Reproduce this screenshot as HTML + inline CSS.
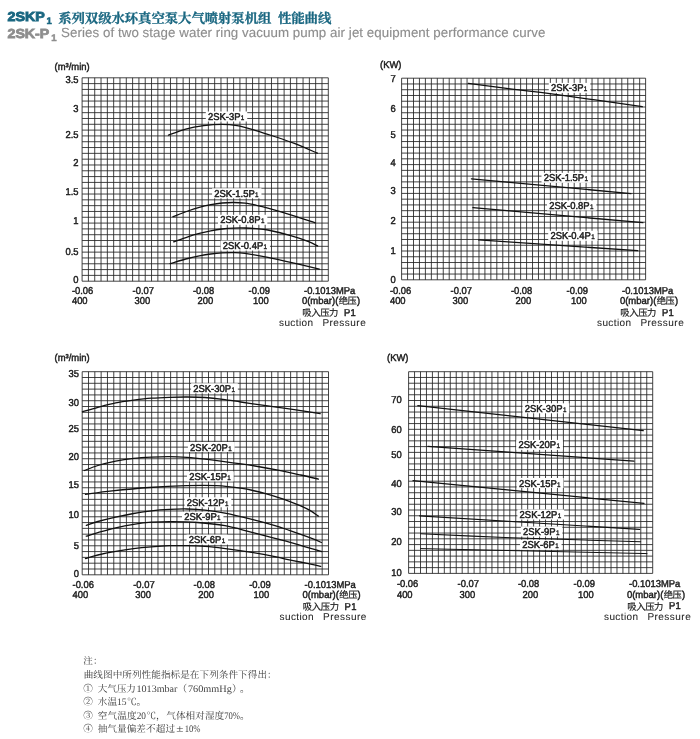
<!DOCTYPE html>
<html><head><meta charset="utf-8"><title>2SKP1 performance curve</title>
<style>html,body{margin:0;padding:0;background:#fff}body{width:700px;height:739px;overflow:hidden;font-family:"Liberation Sans",sans-serif}</style>
</head><body>
<svg width="700" height="739" viewBox="0 0 700 739" font-family="'Liberation Sans', sans-serif" text-rendering="geometricPrecision" style="display:block">
<title>2SKP1 performance curve</title>
<desc>2SKP1 系列双级水环真空泵大气喷射泵机组 性能曲线. 2SK-P1 Series of two stage water ring vacuum pump air jet equipment performance curve. 吸入压力 P1 suction Pressure (绝压). 注：曲线图中所列性能指标是在下列条件下得出：① 大气压力1013mbar（760mmHg）。② 水温15℃。③ 空气温度20℃，气体相对湿度70%。④ 抽气量偏差不超过±10%</desc>
<rect width="700" height="739" fill="#fff"/>
<g style="will-change:opacity" opacity="0.9999">
<text x="7.5" y="21.4" font-size="13.1" font-weight="bold" fill="#1a6781" stroke="#1a6781" stroke-width="0.9" textLength="37.2" lengthAdjust="spacingAndGlyphs">2SKP</text>
<text x="46.6" y="24.4" font-size="9.6" font-weight="bold" fill="#1a6781" stroke="#1a6781" stroke-width="0.5">1</text>
<text x="58.2" y="22.8" font-family="'Liberation Serif', 'Noto Serif CJK SC', serif" font-size="13.4" font-weight="bold" fill="#1a6781" stroke="#1a6781" stroke-width="0.3" textLength="213.2" lengthAdjust="spacing">系列双级水环真空泵大气喷射泵机组</text>
<text x="278" y="22.8" font-family="'Liberation Serif', 'Noto Serif CJK SC', serif" font-size="13.4" font-weight="bold" fill="#1a6781" stroke="#1a6781" stroke-width="0.3" textLength="53.3" lengthAdjust="spacing">性能曲线</text>
<text x="7.5" y="37.8" font-size="13.1" font-weight="bold" fill="#8e8e8e" stroke="#8e8e8e" stroke-width="0.8" textLength="41.8" lengthAdjust="spacingAndGlyphs">2SK-P</text>
<text x="51.3" y="40.9" font-size="9.6" font-weight="bold" fill="#8e8e8e" stroke="#8e8e8e" stroke-width="0.5">1</text>
<text x="61.1" y="37.4" font-size="13.3" fill="#8e8e8e" stroke="#8e8e8e" stroke-width="0.15" textLength="484.2" lengthAdjust="spacing">Series of two stage water ring vacuum pump air jet equipment performance curve</text>
<path d="M82.1 77.8V281.2M88.41 77.8V281.2M94.73 77.8V281.2M101.04 77.8V281.2M107.35 77.8V281.2M113.66 77.8V281.2M119.98 77.8V281.2M126.29 77.8V281.2M132.6 77.8V281.2M138.92 77.8V281.2M145.23 77.8V281.2M151.54 77.8V281.2M157.85 77.8V281.2M164.17 77.8V281.2M170.48 77.8V281.2M176.79 77.8V281.2M183.11 77.8V281.2M189.42 77.8V281.2M195.73 77.8V281.2M202.04 77.8V281.2M208.36 77.8V281.2M214.67 77.8V281.2M220.98 77.8V281.2M227.29 77.8V281.2M233.61 77.8V281.2M239.92 77.8V281.2M246.23 77.8V281.2M252.55 77.8V281.2M258.86 77.8V281.2M265.17 77.8V281.2M271.48 77.8V281.2M277.8 77.8V281.2M284.11 77.8V281.2M290.42 77.8V281.2M296.74 77.8V281.2M303.05 77.8V281.2M309.36 77.8V281.2M315.67 77.8V281.2M321.99 77.8V281.2M328.3 77.8V281.2M82.1 77.8H328.3M82.1 83.61H328.3M82.1 89.42H328.3M82.1 95.23H328.3M82.1 101.05H328.3M82.1 106.86H328.3M82.1 112.67H328.3M82.1 118.48H328.3M82.1 124.29H328.3M82.1 130.1H328.3M82.1 135.91H328.3M82.1 141.73H328.3M82.1 147.54H328.3M82.1 153.35H328.3M82.1 159.16H328.3M82.1 164.97H328.3M82.1 170.78H328.3M82.1 176.59H328.3M82.1 182.41H328.3M82.1 188.22H328.3M82.1 194.03H328.3M82.1 199.84H328.3M82.1 205.65H328.3M82.1 211.46H328.3M82.1 217.27H328.3M82.1 223.09H328.3M82.1 228.9H328.3M82.1 234.71H328.3M82.1 240.52H328.3M82.1 246.33H328.3M82.1 252.14H328.3M82.1 257.95H328.3M82.1 263.77H328.3M82.1 269.58H328.3M82.1 275.39H328.3M82.1 281.2H328.3" stroke="#222" stroke-width="0.85" fill="none"/>
<text transform="translate(54.6 70.1) scale(0.94 1)" font-size="10" text-anchor="start" fill="#1c1c1c" font-weight="normal" stroke="#1c1c1c" stroke-width="0.45" >(m³/min)</text>
<text transform="translate(78.5 83.3) scale(0.94 1)" font-size="10" text-anchor="end" fill="#1c1c1c" font-weight="normal" stroke="#1c1c1c" stroke-width="0.45" >3.5</text>
<text transform="translate(78.5 112) scale(0.94 1)" font-size="10" text-anchor="end" fill="#1c1c1c" font-weight="normal" stroke="#1c1c1c" stroke-width="0.45" >3</text>
<text transform="translate(78.5 138.4) scale(0.94 1)" font-size="10" text-anchor="end" fill="#1c1c1c" font-weight="normal" stroke="#1c1c1c" stroke-width="0.45" >2.5</text>
<text transform="translate(78.5 166.2) scale(0.94 1)" font-size="10" text-anchor="end" fill="#1c1c1c" font-weight="normal" stroke="#1c1c1c" stroke-width="0.45" >2</text>
<text transform="translate(78.5 194.5) scale(0.94 1)" font-size="10" text-anchor="end" fill="#1c1c1c" font-weight="normal" stroke="#1c1c1c" stroke-width="0.45" >1.5</text>
<text transform="translate(78.5 224.3) scale(0.94 1)" font-size="10" text-anchor="end" fill="#1c1c1c" font-weight="normal" stroke="#1c1c1c" stroke-width="0.45" >1</text>
<text transform="translate(78.5 255.2) scale(0.94 1)" font-size="10" text-anchor="end" fill="#1c1c1c" font-weight="normal" stroke="#1c1c1c" stroke-width="0.45" >0.5</text>
<text transform="translate(78.5 283.1) scale(0.94 1)" font-size="10" text-anchor="end" fill="#1c1c1c" font-weight="normal" stroke="#1c1c1c" stroke-width="0.45" >0</text>
<text transform="translate(71.9 293.6) scale(0.94 1)" font-size="10" text-anchor="start" fill="#1c1c1c" font-weight="normal" stroke="#1c1c1c" stroke-width="0.45" >-0.06</text>
<text transform="translate(132.6 293.6) scale(0.94 1)" font-size="10" text-anchor="start" fill="#1c1c1c" font-weight="normal" stroke="#1c1c1c" stroke-width="0.45" >-0.07</text>
<text transform="translate(192.9 293.6) scale(0.94 1)" font-size="10" text-anchor="start" fill="#1c1c1c" font-weight="normal" stroke="#1c1c1c" stroke-width="0.45" >-0.08</text>
<text transform="translate(248.6 293.6) scale(0.94 1)" font-size="10" text-anchor="start" fill="#1c1c1c" font-weight="normal" stroke="#1c1c1c" stroke-width="0.45" >-0.09</text>
<text transform="translate(304 293.6) scale(0.94 1)" font-size="10" text-anchor="start" fill="#1c1c1c" font-weight="normal" stroke="#1c1c1c" stroke-width="0.45" >-0.1013MPa</text>
<text transform="translate(71.9 304.2) scale(0.94 1)" font-size="10" text-anchor="start" fill="#1c1c1c" font-weight="normal" stroke="#1c1c1c" stroke-width="0.45" >400</text>
<text transform="translate(134.6 304.2) scale(0.94 1)" font-size="10" text-anchor="start" fill="#1c1c1c" font-weight="normal" stroke="#1c1c1c" stroke-width="0.45" >300</text>
<text transform="translate(197.6 304.2) scale(0.94 1)" font-size="10" text-anchor="start" fill="#1c1c1c" font-weight="normal" stroke="#1c1c1c" stroke-width="0.45" >200</text>
<text transform="translate(253 304.2) scale(0.94 1)" font-size="10" text-anchor="start" fill="#1c1c1c" font-weight="normal" stroke="#1c1c1c" stroke-width="0.45" >100</text>
<text transform="translate(301.9 304.2) scale(0.94 1)" font-size="10" text-anchor="start" fill="#1c1c1c" font-weight="normal" stroke="#1c1c1c" stroke-width="0.45" textLength="38.72" lengthAdjust="spacingAndGlyphs">0(mbar)(</text>
<text x="338.7" y="304.4" font-family="'Liberation Sans', 'Noto Sans CJK SC', sans-serif" font-size="9.3" fill="#1c1c1c" stroke="#1c1c1c" stroke-width="0.2" textLength="18.2" lengthAdjust="spacing">绝压</text>
<text transform="translate(357 304.2) scale(0.94 1)" font-size="10" text-anchor="start" fill="#1c1c1c" font-weight="normal" stroke="#1c1c1c" stroke-width="0.45" >)</text>
<text x="302.2" y="316" font-family="'Liberation Sans', 'Noto Sans CJK SC', sans-serif" font-size="9.3" fill="#1c1c1c" stroke="#1c1c1c" stroke-width="0.2" textLength="36.2" lengthAdjust="spacing">吸入压力</text>
<text transform="translate(343.9 315.6) scale(0.94 1)" font-size="10" text-anchor="start" fill="#1c1c1c" font-weight="normal" stroke="#1c1c1c" stroke-width="0.45" letter-spacing="0.4">P1</text>
<text transform="translate(279 326.3) scale(1 1)" font-size="10" text-anchor="start" fill="#1c1c1c" font-weight="normal" stroke="#1c1c1c" stroke-width="0.05" textLength="34.0" lengthAdjust="spacing">suction</text>
<text transform="translate(322.4 326.3) scale(1 1)" font-size="10" text-anchor="start" fill="#1c1c1c" font-weight="normal" stroke="#1c1c1c" stroke-width="0.05" textLength="43.3" lengthAdjust="spacing">Pressure</text>
<path d="M401.6 78.2V279.8M407.55 78.2V279.8M413.5 78.2V279.8M419.45 78.2V279.8M425.4 78.2V279.8M431.36 78.2V279.8M437.31 78.2V279.8M443.26 78.2V279.8M449.21 78.2V279.8M455.16 78.2V279.8M461.11 78.2V279.8M467.06 78.2V279.8M473.01 78.2V279.8M478.97 78.2V279.8M484.92 78.2V279.8M490.87 78.2V279.8M496.82 78.2V279.8M502.77 78.2V279.8M508.72 78.2V279.8M514.67 78.2V279.8M520.62 78.2V279.8M526.58 78.2V279.8M532.53 78.2V279.8M538.48 78.2V279.8M544.43 78.2V279.8M550.38 78.2V279.8M556.33 78.2V279.8M562.28 78.2V279.8M568.23 78.2V279.8M574.19 78.2V279.8M580.14 78.2V279.8M586.09 78.2V279.8M592.04 78.2V279.8M597.99 78.2V279.8M603.94 78.2V279.8M609.89 78.2V279.8M615.84 78.2V279.8M621.8 78.2V279.8M627.75 78.2V279.8M633.7 78.2V279.8M639.65 78.2V279.8M645.6 78.2V279.8M401.6 78.2H645.6M401.6 83.96H645.6M401.6 89.72H645.6M401.6 95.48H645.6M401.6 101.24H645.6M401.6 107H645.6M401.6 112.76H645.6M401.6 118.52H645.6M401.6 124.28H645.6M401.6 130.04H645.6M401.6 135.8H645.6M401.6 141.56H645.6M401.6 147.32H645.6M401.6 153.08H645.6M401.6 158.84H645.6M401.6 164.6H645.6M401.6 170.36H645.6M401.6 176.12H645.6M401.6 181.88H645.6M401.6 187.64H645.6M401.6 193.4H645.6M401.6 199.16H645.6M401.6 204.92H645.6M401.6 210.68H645.6M401.6 216.44H645.6M401.6 222.2H645.6M401.6 227.96H645.6M401.6 233.72H645.6M401.6 239.48H645.6M401.6 245.24H645.6M401.6 251H645.6M401.6 256.76H645.6M401.6 262.52H645.6M401.6 268.28H645.6M401.6 274.04H645.6M401.6 279.8H645.6" stroke="#222" stroke-width="0.85" fill="none"/>
<text transform="translate(380 68.2) scale(0.94 1)" font-size="10" text-anchor="start" fill="#1c1c1c" font-weight="normal" stroke="#1c1c1c" stroke-width="0.45" >(KW)</text>
<text transform="translate(395.7 81.8) scale(0.94 1)" font-size="10" text-anchor="end" fill="#1c1c1c" font-weight="normal" stroke="#1c1c1c" stroke-width="0.45" >7</text>
<text transform="translate(395.7 112.2) scale(0.94 1)" font-size="10" text-anchor="end" fill="#1c1c1c" font-weight="normal" stroke="#1c1c1c" stroke-width="0.45" >6</text>
<text transform="translate(395.7 137.8) scale(0.94 1)" font-size="10" text-anchor="end" fill="#1c1c1c" font-weight="normal" stroke="#1c1c1c" stroke-width="0.45" >5</text>
<text transform="translate(395.7 166.1) scale(0.94 1)" font-size="10" text-anchor="end" fill="#1c1c1c" font-weight="normal" stroke="#1c1c1c" stroke-width="0.45" >4</text>
<text transform="translate(395.7 194.3) scale(0.94 1)" font-size="10" text-anchor="end" fill="#1c1c1c" font-weight="normal" stroke="#1c1c1c" stroke-width="0.45" >3</text>
<text transform="translate(395.7 223.8) scale(0.94 1)" font-size="10" text-anchor="end" fill="#1c1c1c" font-weight="normal" stroke="#1c1c1c" stroke-width="0.45" >2</text>
<text transform="translate(395.7 254.4) scale(0.94 1)" font-size="10" text-anchor="end" fill="#1c1c1c" font-weight="normal" stroke="#1c1c1c" stroke-width="0.45" >1</text>
<text transform="translate(395.7 283.1) scale(0.94 1)" font-size="10" text-anchor="end" fill="#1c1c1c" font-weight="normal" stroke="#1c1c1c" stroke-width="0.45" >0</text>
<text transform="translate(389.9 293.6) scale(0.94 1)" font-size="10" text-anchor="start" fill="#1c1c1c" font-weight="normal" stroke="#1c1c1c" stroke-width="0.45" >-0.06</text>
<text transform="translate(450.6 293.6) scale(0.94 1)" font-size="10" text-anchor="start" fill="#1c1c1c" font-weight="normal" stroke="#1c1c1c" stroke-width="0.45" >-0.07</text>
<text transform="translate(510.9 293.6) scale(0.94 1)" font-size="10" text-anchor="start" fill="#1c1c1c" font-weight="normal" stroke="#1c1c1c" stroke-width="0.45" >-0.08</text>
<text transform="translate(566.6 293.6) scale(0.94 1)" font-size="10" text-anchor="start" fill="#1c1c1c" font-weight="normal" stroke="#1c1c1c" stroke-width="0.45" >-0.09</text>
<text transform="translate(622 293.6) scale(0.94 1)" font-size="10" text-anchor="start" fill="#1c1c1c" font-weight="normal" stroke="#1c1c1c" stroke-width="0.45" >-0.1013MPa</text>
<text transform="translate(389.9 304.2) scale(0.94 1)" font-size="10" text-anchor="start" fill="#1c1c1c" font-weight="normal" stroke="#1c1c1c" stroke-width="0.45" >400</text>
<text transform="translate(452.6 304.2) scale(0.94 1)" font-size="10" text-anchor="start" fill="#1c1c1c" font-weight="normal" stroke="#1c1c1c" stroke-width="0.45" >300</text>
<text transform="translate(515.6 304.2) scale(0.94 1)" font-size="10" text-anchor="start" fill="#1c1c1c" font-weight="normal" stroke="#1c1c1c" stroke-width="0.45" >200</text>
<text transform="translate(571 304.2) scale(0.94 1)" font-size="10" text-anchor="start" fill="#1c1c1c" font-weight="normal" stroke="#1c1c1c" stroke-width="0.45" >100</text>
<text transform="translate(619.9 304.2) scale(0.94 1)" font-size="10" text-anchor="start" fill="#1c1c1c" font-weight="normal" stroke="#1c1c1c" stroke-width="0.45" textLength="38.72" lengthAdjust="spacingAndGlyphs">0(mbar)(</text>
<text x="656.7" y="304.4" font-family="'Liberation Sans', 'Noto Sans CJK SC', sans-serif" font-size="9.3" fill="#1c1c1c" stroke="#1c1c1c" stroke-width="0.2" textLength="18.2" lengthAdjust="spacing">绝压</text>
<text transform="translate(675 304.2) scale(0.94 1)" font-size="10" text-anchor="start" fill="#1c1c1c" font-weight="normal" stroke="#1c1c1c" stroke-width="0.45" >)</text>
<text x="620.2" y="316" font-family="'Liberation Sans', 'Noto Sans CJK SC', sans-serif" font-size="9.3" fill="#1c1c1c" stroke="#1c1c1c" stroke-width="0.2" textLength="36.2" lengthAdjust="spacing">吸入压力</text>
<text transform="translate(661.9 315.6) scale(0.94 1)" font-size="10" text-anchor="start" fill="#1c1c1c" font-weight="normal" stroke="#1c1c1c" stroke-width="0.45" letter-spacing="0.4">P1</text>
<text transform="translate(597 326.3) scale(1 1)" font-size="10" text-anchor="start" fill="#1c1c1c" font-weight="normal" stroke="#1c1c1c" stroke-width="0.05" textLength="34.0" lengthAdjust="spacing">suction</text>
<text transform="translate(640.4 326.3) scale(1 1)" font-size="10" text-anchor="start" fill="#1c1c1c" font-weight="normal" stroke="#1c1c1c" stroke-width="0.05" textLength="43.3" lengthAdjust="spacing">Pressure</text>
<path d="M82.2 371.7V574.8M88.52 371.7V574.8M94.83 371.7V574.8M101.15 371.7V574.8M107.46 371.7V574.8M113.78 371.7V574.8M120.09 371.7V574.8M126.41 371.7V574.8M132.72 371.7V574.8M139.04 371.7V574.8M145.35 371.7V574.8M151.67 371.7V574.8M157.98 371.7V574.8M164.3 371.7V574.8M170.62 371.7V574.8M176.93 371.7V574.8M183.25 371.7V574.8M189.56 371.7V574.8M195.88 371.7V574.8M202.19 371.7V574.8M208.51 371.7V574.8M214.82 371.7V574.8M221.14 371.7V574.8M227.45 371.7V574.8M233.77 371.7V574.8M240.08 371.7V574.8M246.4 371.7V574.8M252.72 371.7V574.8M259.03 371.7V574.8M265.35 371.7V574.8M271.66 371.7V574.8M277.98 371.7V574.8M284.29 371.7V574.8M290.61 371.7V574.8M296.92 371.7V574.8M303.24 371.7V574.8M309.55 371.7V574.8M315.87 371.7V574.8M322.18 371.7V574.8M328.5 371.7V574.8M82.2 371.7H328.5M82.2 377.5H328.5M82.2 383.31H328.5M82.2 389.11H328.5M82.2 394.91H328.5M82.2 400.71H328.5M82.2 406.52H328.5M82.2 412.32H328.5M82.2 418.12H328.5M82.2 423.93H328.5M82.2 429.73H328.5M82.2 435.53H328.5M82.2 441.33H328.5M82.2 447.14H328.5M82.2 452.94H328.5M82.2 458.74H328.5M82.2 464.55H328.5M82.2 470.35H328.5M82.2 476.15H328.5M82.2 481.95H328.5M82.2 487.76H328.5M82.2 493.56H328.5M82.2 499.36H328.5M82.2 505.17H328.5M82.2 510.97H328.5M82.2 516.77H328.5M82.2 522.57H328.5M82.2 528.38H328.5M82.2 534.18H328.5M82.2 539.98H328.5M82.2 545.79H328.5M82.2 551.59H328.5M82.2 557.39H328.5M82.2 563.19H328.5M82.2 569H328.5M82.2 574.8H328.5" stroke="#222" stroke-width="0.85" fill="none"/>
<text transform="translate(54.6 361.3) scale(0.94 1)" font-size="10" text-anchor="start" fill="#1c1c1c" font-weight="normal" stroke="#1c1c1c" stroke-width="0.45" >(m³/min)</text>
<text transform="translate(79 377.4) scale(0.94 1)" font-size="10" text-anchor="end" fill="#1c1c1c" font-weight="normal" stroke="#1c1c1c" stroke-width="0.45" >35</text>
<text transform="translate(79 406.1) scale(0.94 1)" font-size="10" text-anchor="end" fill="#1c1c1c" font-weight="normal" stroke="#1c1c1c" stroke-width="0.45" >30</text>
<text transform="translate(79 432.1) scale(0.94 1)" font-size="10" text-anchor="end" fill="#1c1c1c" font-weight="normal" stroke="#1c1c1c" stroke-width="0.45" >25</text>
<text transform="translate(79 460.4) scale(0.94 1)" font-size="10" text-anchor="end" fill="#1c1c1c" font-weight="normal" stroke="#1c1c1c" stroke-width="0.45" >20</text>
<text transform="translate(79 488.3) scale(0.94 1)" font-size="10" text-anchor="end" fill="#1c1c1c" font-weight="normal" stroke="#1c1c1c" stroke-width="0.45" >15</text>
<text transform="translate(79 518.4) scale(0.94 1)" font-size="10" text-anchor="end" fill="#1c1c1c" font-weight="normal" stroke="#1c1c1c" stroke-width="0.45" >10</text>
<text transform="translate(79 549.2) scale(0.94 1)" font-size="10" text-anchor="end" fill="#1c1c1c" font-weight="normal" stroke="#1c1c1c" stroke-width="0.45" >5</text>
<text transform="translate(79 577) scale(0.94 1)" font-size="10" text-anchor="end" fill="#1c1c1c" font-weight="normal" stroke="#1c1c1c" stroke-width="0.45" >0</text>
<text transform="translate(72.5 587.6) scale(0.94 1)" font-size="10" text-anchor="start" fill="#1c1c1c" font-weight="normal" stroke="#1c1c1c" stroke-width="0.45" >-0.06</text>
<text transform="translate(133.2 587.6) scale(0.94 1)" font-size="10" text-anchor="start" fill="#1c1c1c" font-weight="normal" stroke="#1c1c1c" stroke-width="0.45" >-0.07</text>
<text transform="translate(193.5 587.6) scale(0.94 1)" font-size="10" text-anchor="start" fill="#1c1c1c" font-weight="normal" stroke="#1c1c1c" stroke-width="0.45" >-0.08</text>
<text transform="translate(249.2 587.6) scale(0.94 1)" font-size="10" text-anchor="start" fill="#1c1c1c" font-weight="normal" stroke="#1c1c1c" stroke-width="0.45" >-0.09</text>
<text transform="translate(304.6 587.6) scale(0.94 1)" font-size="10" text-anchor="start" fill="#1c1c1c" font-weight="normal" stroke="#1c1c1c" stroke-width="0.45" >-0.1013MPa</text>
<text transform="translate(72.5 598.2) scale(0.94 1)" font-size="10" text-anchor="start" fill="#1c1c1c" font-weight="normal" stroke="#1c1c1c" stroke-width="0.45" >400</text>
<text transform="translate(135.2 598.2) scale(0.94 1)" font-size="10" text-anchor="start" fill="#1c1c1c" font-weight="normal" stroke="#1c1c1c" stroke-width="0.45" >300</text>
<text transform="translate(198.2 598.2) scale(0.94 1)" font-size="10" text-anchor="start" fill="#1c1c1c" font-weight="normal" stroke="#1c1c1c" stroke-width="0.45" >200</text>
<text transform="translate(253.6 598.2) scale(0.94 1)" font-size="10" text-anchor="start" fill="#1c1c1c" font-weight="normal" stroke="#1c1c1c" stroke-width="0.45" >100</text>
<text transform="translate(302.5 598.2) scale(0.94 1)" font-size="10" text-anchor="start" fill="#1c1c1c" font-weight="normal" stroke="#1c1c1c" stroke-width="0.45" textLength="38.72" lengthAdjust="spacingAndGlyphs">0(mbar)(</text>
<text x="339.3" y="598.4" font-family="'Liberation Sans', 'Noto Sans CJK SC', sans-serif" font-size="9.3" fill="#1c1c1c" stroke="#1c1c1c" stroke-width="0.2" textLength="18.2" lengthAdjust="spacing">绝压</text>
<text transform="translate(357.6 598.2) scale(0.94 1)" font-size="10" text-anchor="start" fill="#1c1c1c" font-weight="normal" stroke="#1c1c1c" stroke-width="0.45" >)</text>
<text x="302.8" y="610" font-family="'Liberation Sans', 'Noto Sans CJK SC', sans-serif" font-size="9.3" fill="#1c1c1c" stroke="#1c1c1c" stroke-width="0.2" textLength="36.2" lengthAdjust="spacing">吸入压力</text>
<text transform="translate(344.5 609.6) scale(0.94 1)" font-size="10" text-anchor="start" fill="#1c1c1c" font-weight="normal" stroke="#1c1c1c" stroke-width="0.45" letter-spacing="0.4">P1</text>
<text transform="translate(279.6 620.3) scale(1 1)" font-size="10" text-anchor="start" fill="#1c1c1c" font-weight="normal" stroke="#1c1c1c" stroke-width="0.05" textLength="34.0" lengthAdjust="spacing">suction</text>
<text transform="translate(323 620.3) scale(1 1)" font-size="10" text-anchor="start" fill="#1c1c1c" font-weight="normal" stroke="#1c1c1c" stroke-width="0.05" textLength="43.3" lengthAdjust="spacing">Pressure</text>
<path d="M408.6 371.7V573.4M414.55 371.7V573.4M420.51 371.7V573.4M426.46 371.7V573.4M432.41 371.7V573.4M438.37 371.7V573.4M444.32 371.7V573.4M450.28 371.7V573.4M456.23 371.7V573.4M462.18 371.7V573.4M468.14 371.7V573.4M474.09 371.7V573.4M480.04 371.7V573.4M486 371.7V573.4M491.95 371.7V573.4M497.9 371.7V573.4M503.86 371.7V573.4M509.81 371.7V573.4M515.77 371.7V573.4M521.72 371.7V573.4M527.67 371.7V573.4M533.63 371.7V573.4M539.58 371.7V573.4M545.53 371.7V573.4M551.49 371.7V573.4M557.44 371.7V573.4M563.4 371.7V573.4M569.35 371.7V573.4M575.3 371.7V573.4M581.26 371.7V573.4M587.21 371.7V573.4M593.16 371.7V573.4M599.12 371.7V573.4M605.07 371.7V573.4M611.02 371.7V573.4M616.98 371.7V573.4M622.93 371.7V573.4M628.89 371.7V573.4M634.84 371.7V573.4M640.79 371.7V573.4M646.75 371.7V573.4M652.7 371.7V573.4M408.6 371.7H652.7M408.6 377.46H652.7M408.6 383.23H652.7M408.6 388.99H652.7M408.6 394.75H652.7M408.6 400.51H652.7M408.6 406.28H652.7M408.6 412.04H652.7M408.6 417.8H652.7M408.6 423.57H652.7M408.6 429.33H652.7M408.6 435.09H652.7M408.6 440.85H652.7M408.6 446.62H652.7M408.6 452.38H652.7M408.6 458.14H652.7M408.6 463.91H652.7M408.6 469.67H652.7M408.6 475.43H652.7M408.6 481.19H652.7M408.6 486.96H652.7M408.6 492.72H652.7M408.6 498.48H652.7M408.6 504.25H652.7M408.6 510.01H652.7M408.6 515.77H652.7M408.6 521.53H652.7M408.6 527.3H652.7M408.6 533.06H652.7M408.6 538.82H652.7M408.6 544.59H652.7M408.6 550.35H652.7M408.6 556.11H652.7M408.6 561.87H652.7M408.6 567.64H652.7M408.6 573.4H652.7" stroke="#222" stroke-width="0.85" fill="none"/>
<text transform="translate(387 361.4) scale(0.94 1)" font-size="10" text-anchor="start" fill="#1c1c1c" font-weight="normal" stroke="#1c1c1c" stroke-width="0.45" >(KW)</text>
<text transform="translate(401.7 402.8) scale(0.94 1)" font-size="10" text-anchor="end" fill="#1c1c1c" font-weight="normal" stroke="#1c1c1c" stroke-width="0.45" >70</text>
<text transform="translate(401.7 433.2) scale(0.94 1)" font-size="10" text-anchor="end" fill="#1c1c1c" font-weight="normal" stroke="#1c1c1c" stroke-width="0.45" >60</text>
<text transform="translate(401.7 458.1) scale(0.94 1)" font-size="10" text-anchor="end" fill="#1c1c1c" font-weight="normal" stroke="#1c1c1c" stroke-width="0.45" >50</text>
<text transform="translate(401.7 487.2) scale(0.94 1)" font-size="10" text-anchor="end" fill="#1c1c1c" font-weight="normal" stroke="#1c1c1c" stroke-width="0.45" >40</text>
<text transform="translate(401.7 515.1) scale(0.94 1)" font-size="10" text-anchor="end" fill="#1c1c1c" font-weight="normal" stroke="#1c1c1c" stroke-width="0.45" >30</text>
<text transform="translate(401.7 544.8) scale(0.94 1)" font-size="10" text-anchor="end" fill="#1c1c1c" font-weight="normal" stroke="#1c1c1c" stroke-width="0.45" >20</text>
<text transform="translate(401.7 575.7) scale(0.94 1)" font-size="10" text-anchor="end" fill="#1c1c1c" font-weight="normal" stroke="#1c1c1c" stroke-width="0.45" >10</text>
<text transform="translate(396.9 587.2) scale(0.94 1)" font-size="10" text-anchor="start" fill="#1c1c1c" font-weight="normal" stroke="#1c1c1c" stroke-width="0.45" >-0.06</text>
<text transform="translate(457.6 587.2) scale(0.94 1)" font-size="10" text-anchor="start" fill="#1c1c1c" font-weight="normal" stroke="#1c1c1c" stroke-width="0.45" >-0.07</text>
<text transform="translate(517.9 587.2) scale(0.94 1)" font-size="10" text-anchor="start" fill="#1c1c1c" font-weight="normal" stroke="#1c1c1c" stroke-width="0.45" >-0.08</text>
<text transform="translate(573.6 587.2) scale(0.94 1)" font-size="10" text-anchor="start" fill="#1c1c1c" font-weight="normal" stroke="#1c1c1c" stroke-width="0.45" >-0.09</text>
<text transform="translate(629 587.2) scale(0.94 1)" font-size="10" text-anchor="start" fill="#1c1c1c" font-weight="normal" stroke="#1c1c1c" stroke-width="0.45" >-0.1013MPa</text>
<text transform="translate(396.9 597.8) scale(0.94 1)" font-size="10" text-anchor="start" fill="#1c1c1c" font-weight="normal" stroke="#1c1c1c" stroke-width="0.45" >400</text>
<text transform="translate(459.6 597.8) scale(0.94 1)" font-size="10" text-anchor="start" fill="#1c1c1c" font-weight="normal" stroke="#1c1c1c" stroke-width="0.45" >300</text>
<text transform="translate(522.6 597.8) scale(0.94 1)" font-size="10" text-anchor="start" fill="#1c1c1c" font-weight="normal" stroke="#1c1c1c" stroke-width="0.45" >200</text>
<text transform="translate(578 597.8) scale(0.94 1)" font-size="10" text-anchor="start" fill="#1c1c1c" font-weight="normal" stroke="#1c1c1c" stroke-width="0.45" >100</text>
<text transform="translate(626.9 597.8) scale(0.94 1)" font-size="10" text-anchor="start" fill="#1c1c1c" font-weight="normal" stroke="#1c1c1c" stroke-width="0.45" textLength="38.72" lengthAdjust="spacingAndGlyphs">0(mbar)(</text>
<text x="663.7" y="598" font-family="'Liberation Sans', 'Noto Sans CJK SC', sans-serif" font-size="9.3" fill="#1c1c1c" stroke="#1c1c1c" stroke-width="0.2" textLength="18.2" lengthAdjust="spacing">绝压</text>
<text transform="translate(682 597.8) scale(0.94 1)" font-size="10" text-anchor="start" fill="#1c1c1c" font-weight="normal" stroke="#1c1c1c" stroke-width="0.45" >)</text>
<text x="627.2" y="609.6" font-family="'Liberation Sans', 'Noto Sans CJK SC', sans-serif" font-size="9.3" fill="#1c1c1c" stroke="#1c1c1c" stroke-width="0.2" textLength="36.2" lengthAdjust="spacing">吸入压力</text>
<text transform="translate(668.9 609.2) scale(0.94 1)" font-size="10" text-anchor="start" fill="#1c1c1c" font-weight="normal" stroke="#1c1c1c" stroke-width="0.45" letter-spacing="0.4">P1</text>
<text transform="translate(604 619.9) scale(1 1)" font-size="10" text-anchor="start" fill="#1c1c1c" font-weight="normal" stroke="#1c1c1c" stroke-width="0.05" textLength="34.0" lengthAdjust="spacing">suction</text>
<text transform="translate(647.4 619.9) scale(1 1)" font-size="10" text-anchor="start" fill="#1c1c1c" font-weight="normal" stroke="#1c1c1c" stroke-width="0.05" textLength="43.3" lengthAdjust="spacing">Pressure</text>
<rect x="205.78" y="111.5" width="41.47" height="10" fill="#fff"/>
<rect x="212.1" y="188.3" width="49.36" height="10" fill="#fff"/>
<rect x="218" y="214.8" width="49.36" height="10" fill="#fff"/>
<rect x="220.6" y="240.5" width="49.36" height="10" fill="#fff"/>
<rect x="548.78" y="82.9" width="41.47" height="10" fill="#fff"/>
<rect x="541.5" y="172.8" width="49.36" height="10" fill="#fff"/>
<rect x="547" y="200.5" width="49.36" height="10" fill="#fff"/>
<rect x="548.2" y="230.8" width="49.36" height="10" fill="#fff"/>
<rect x="191.09" y="383.3" width="46.73" height="10" fill="#fff"/>
<rect x="187.89" y="442" width="46.73" height="10" fill="#fff"/>
<rect x="186.99" y="471.4" width="46.73" height="10" fill="#fff"/>
<rect x="184.59" y="497.3" width="46.73" height="10" fill="#fff"/>
<rect x="181.98" y="511.7" width="41.47" height="10" fill="#fff"/>
<rect x="186.58" y="534.6" width="41.47" height="10" fill="#fff"/>
<rect x="522.59" y="403.3" width="46.73" height="10" fill="#fff"/>
<rect x="516.19" y="439.9" width="46.73" height="10" fill="#fff"/>
<rect x="516.79" y="478" width="46.73" height="10" fill="#fff"/>
<rect x="517.39" y="509.5" width="46.73" height="10" fill="#fff"/>
<rect x="520.88" y="526.5" width="41.47" height="10" fill="#fff"/>
<rect x="520.08" y="539.8" width="41.47" height="10" fill="#fff"/>
<path d="M168.5 135.2C171.37 134.18 179.83 130.68 185.7 129.1C191.57 127.52 197.7 126.48 203.7 125.7C209.7 124.92 216.13 124.4 221.7 124.4C227.27 124.4 231.53 124.72 237.1 125.7C242.67 126.68 249.1 128.58 255.1 130.3C261.1 132.02 266.67 133.85 273.1 136C279.53 138.15 286.32 140.33 293.7 143.2C301.08 146.07 313.45 151.53 317.4 153.2" stroke="#111" stroke-width="1.3" fill="none" stroke-linecap="round"/>
<path d="M173 216.7C175.48 215.75 183.52 212.57 187.9 211C192.28 209.43 195.5 208.35 199.3 207.3C203.1 206.25 206.9 205.42 210.7 204.7C214.5 203.98 218.28 203.37 222.1 203C225.92 202.63 229.78 202.47 233.6 202.5C237.42 202.53 241.27 202.75 245 203.2C248.73 203.65 252.18 204.38 256 205.2C259.82 206.02 262.12 206.5 267.9 208.1C273.68 209.7 282.8 212.35 290.7 214.8C298.6 217.25 311.2 221.47 315.3 222.8" stroke="#111" stroke-width="1.3" fill="none" stroke-linecap="round"/>
<path d="M173.6 241.9C175.98 241.05 183.62 238.22 187.9 236.8C192.18 235.38 195.5 234.4 199.3 233.4C203.1 232.4 206.9 231.53 210.7 230.8C214.5 230.07 218.28 229.45 222.1 229C225.92 228.55 229.78 228.27 233.6 228.1C237.42 227.93 241.27 227.92 245 228C248.73 228.08 252.18 228.27 256 228.6C259.82 228.93 262.12 228.83 267.9 230C273.68 231.17 284.03 233.72 290.7 235.6C297.37 237.48 303.42 239.58 307.9 241.3C312.38 243.02 315.98 245.13 317.6 245.9" stroke="#111" stroke-width="1.3" fill="none" stroke-linecap="round"/>
<path d="M170.1 263.6C173.07 262.75 183.03 259.78 187.9 258.5C192.77 257.22 195.5 256.65 199.3 255.9C203.1 255.15 206.9 254.5 210.7 254C214.5 253.5 218.28 253.13 222.1 252.9C225.92 252.67 229.78 252.52 233.6 252.6C237.42 252.68 239.28 252.62 245 253.4C250.72 254.18 260.28 255.8 267.9 257.3C275.52 258.8 282.13 260.43 290.7 262.4C299.27 264.37 314.53 267.98 319.3 269.1" stroke="#111" stroke-width="1.3" fill="none" stroke-linecap="round"/>
<path d="M468.3 83.3C475.6 84.28 497.88 87.38 512.1 89.2C526.32 91.02 531.9 91.3 553.6 94.2C575.3 97.1 627.52 104.53 642.3 106.6" stroke="#111" stroke-width="1.3" fill="none" stroke-linecap="round"/>
<path d="M471.4 178.8L630.9 193.6" stroke="#111" stroke-width="1.3" fill="none" stroke-linecap="round"/>
<path d="M472.9 207.6L642.9 222.7" stroke="#111" stroke-width="1.3" fill="none" stroke-linecap="round"/>
<path d="M478.6 239.9L637.7 250.7" stroke="#111" stroke-width="1.3" fill="none" stroke-linecap="round"/>
<path d="M82.4 411.8C84.98 411.05 92.35 408.78 97.9 407.3C103.45 405.82 109.75 404.08 115.7 402.9C121.65 401.72 127.65 400.98 133.6 400.2C139.55 399.42 145.45 398.68 151.4 398.2C157.35 397.72 163.35 397.5 169.3 397.3C175.25 397.1 181.15 396.97 187.1 397C193.05 397.03 199.03 397.12 205 397.5C210.97 397.88 216.95 398.55 222.9 399.3C228.85 400.05 234.75 401.12 240.7 402C246.65 402.88 252.65 403.73 258.6 404.6C264.55 405.47 270.45 406.35 276.4 407.2C282.35 408.05 287 408.63 294.3 409.7C301.6 410.77 315.88 412.95 320.2 413.6" stroke="#111" stroke-width="1.3" fill="none" stroke-linecap="round"/>
<path d="M84.3 470.5C86.57 469.67 92.67 467.07 97.9 465.5C103.13 463.93 109.75 462.28 115.7 461.1C121.65 459.92 127.65 459.07 133.6 458.4C139.55 457.73 145.45 457.4 151.4 457.1C157.35 456.8 163.35 456.55 169.3 456.6C175.25 456.65 181.15 456.97 187.1 457.4C193.05 457.83 197.68 458.33 205 459.2C212.32 460.07 222.67 461.47 231 462.6C239.33 463.73 247.18 464.75 255 466C262.82 467.25 270.28 468.6 277.9 470.1C285.52 471.6 293.95 473.5 300.7 475C307.45 476.5 315.45 478.42 318.4 479.1" stroke="#111" stroke-width="1.3" fill="none" stroke-linecap="round"/>
<path d="M85.5 494.3C89.93 493.73 101.47 492.03 112.1 490.9C122.73 489.77 136.92 488.37 149.3 487.5C161.68 486.63 175.25 486 186.4 485.7C197.55 485.4 206.9 485.27 216.2 485.7C225.5 486.13 235.73 487.42 242.2 488.3C248.67 489.18 250.97 490.07 255 491C259.03 491.93 262.58 492.85 266.4 493.9C270.22 494.95 274.08 496.07 277.9 497.3C281.72 498.53 285.5 499.87 289.3 501.3C293.1 502.73 297.27 504.38 300.7 505.9C304.13 507.42 306.95 508.7 309.9 510.4C312.85 512.1 316.98 515.15 318.4 516.1" stroke="#111" stroke-width="1.3" fill="none" stroke-linecap="round"/>
<path d="M86.3 525.4C88.23 524.75 93 522.88 97.9 521.5C102.8 520.12 109.75 518.43 115.7 517.1C121.65 515.77 127.65 514.55 133.6 513.5C139.55 512.45 145.45 511.48 151.4 510.8C157.35 510.12 163.35 509.7 169.3 509.4C175.25 509.1 181.15 508.88 187.1 509C193.05 509.12 198.68 509.4 205 510.1C211.32 510.8 217.5 511.73 225 513.2C232.5 514.67 241.67 516.83 250 518.9C258.33 520.97 268.45 523.68 275 525.6C281.55 527.52 284.53 528.77 289.3 530.4C294.07 532.03 299.43 533.9 303.6 535.4C307.77 536.9 311.33 538.22 314.3 539.4C317.27 540.58 320.22 541.98 321.4 542.5" stroke="#111" stroke-width="1.3" fill="none" stroke-linecap="round"/>
<path d="M86.3 536.2C88.23 535.6 93 534 97.9 532.6C102.8 531.2 109.75 529.18 115.7 527.8C121.65 526.42 127.65 525.23 133.6 524.3C139.55 523.37 145.07 522.65 151.4 522.2C157.73 521.75 163.9 521.55 171.6 521.6C179.3 521.65 188.7 521.82 197.6 522.5C206.5 523.18 216.27 524.15 225 525.7C233.73 527.25 241.67 529.68 250 531.8C258.33 533.92 268.45 536.68 275 538.4C281.55 540.12 284.53 540.78 289.3 542.1C294.07 543.42 299.43 545.1 303.6 546.3C307.77 547.5 311.27 548.42 314.3 549.3C317.33 550.18 320.55 551.22 321.8 551.6" stroke="#111" stroke-width="1.3" fill="none" stroke-linecap="round"/>
<path d="M85.5 558.5C87.57 557.92 92.87 556.18 97.9 555C102.93 553.82 109.75 552.47 115.7 551.4C121.65 550.33 127.65 549.37 133.6 548.6C139.55 547.83 145.45 547.28 151.4 546.8C157.35 546.32 163.35 545.9 169.3 545.7C175.25 545.5 181.15 545.5 187.1 545.6C193.05 545.7 198.92 545.85 205 546.3C211.08 546.75 215.55 547.25 223.6 548.3C231.65 549.35 244.73 551.22 253.3 552.6C261.87 553.98 269 555.38 275 556.6C281 557.82 284.53 558.88 289.3 559.9C294.07 560.92 299.43 561.87 303.6 562.7C307.77 563.53 311.45 564.28 314.3 564.9C317.15 565.52 319.63 566.15 320.7 566.4" stroke="#111" stroke-width="1.3" fill="none" stroke-linecap="round"/>
<path d="M417.8 405.7L643.3 430.7" stroke="#111" stroke-width="1.2" fill="none" stroke-linecap="round"/>
<path d="M427.9 446.3L634 461.2" stroke="#111" stroke-width="1.2" fill="none" stroke-linecap="round"/>
<path d="M413 480.6L644 503.4" stroke="#111" stroke-width="1.2" fill="none" stroke-linecap="round"/>
<path d="M419.6 515.8L639.6 529.4" stroke="#111" stroke-width="1.2" fill="none" stroke-linecap="round"/>
<path d="M420.6 533.8C434.67 534.42 477.6 536.45 505 537.5C532.4 538.55 562.38 539.4 585 540.1C607.62 540.8 631.42 541.43 640.7 541.7" stroke="#111" stroke-width="1.05" fill="none" stroke-linecap="round"/>
<path d="M420.6 548.6L647 553.6" stroke="#111" stroke-width="1.0" fill="none" stroke-linecap="round"/>
<text transform="translate(207.98 120.07) scale(0.955 1)" font-size="9.9" fill="#1c1c1c" stroke="#1c1c1c" stroke-width="0.5">2SK-3P<tspan font-size="6.6" dx="0.4" stroke-width="0.35">1</tspan></text>
<text transform="translate(214.3 196.87) scale(0.955 1)" font-size="9.9" fill="#1c1c1c" stroke="#1c1c1c" stroke-width="0.5">2SK-1.5P<tspan font-size="6.6" dx="0.4" stroke-width="0.35">1</tspan></text>
<text transform="translate(220.2 223.37) scale(0.955 1)" font-size="9.9" fill="#1c1c1c" stroke="#1c1c1c" stroke-width="0.5">2SK-0.8P<tspan font-size="6.6" dx="0.4" stroke-width="0.35">1</tspan></text>
<text transform="translate(222.8 249.06) scale(0.955 1)" font-size="9.9" fill="#1c1c1c" stroke="#1c1c1c" stroke-width="0.5">2SK-0.4P<tspan font-size="6.6" dx="0.4" stroke-width="0.35">1</tspan></text>
<text transform="translate(550.98 91.47) scale(0.955 1)" font-size="9.9" fill="#1c1c1c" stroke="#1c1c1c" stroke-width="0.5">2SK-3P<tspan font-size="6.6" dx="0.4" stroke-width="0.35">1</tspan></text>
<text transform="translate(543.7 181.37) scale(0.955 1)" font-size="9.9" fill="#1c1c1c" stroke="#1c1c1c" stroke-width="0.5">2SK-1.5P<tspan font-size="6.6" dx="0.4" stroke-width="0.35">1</tspan></text>
<text transform="translate(549.2 209.06) scale(0.955 1)" font-size="9.9" fill="#1c1c1c" stroke="#1c1c1c" stroke-width="0.5">2SK-0.8P<tspan font-size="6.6" dx="0.4" stroke-width="0.35">1</tspan></text>
<text transform="translate(550.4 239.37) scale(0.955 1)" font-size="9.9" fill="#1c1c1c" stroke="#1c1c1c" stroke-width="0.5">2SK-0.4P<tspan font-size="6.6" dx="0.4" stroke-width="0.35">1</tspan></text>
<text transform="translate(193.29 391.86) scale(0.955 1)" font-size="9.9" fill="#1c1c1c" stroke="#1c1c1c" stroke-width="0.5">2SK-30P<tspan font-size="6.6" dx="0.4" stroke-width="0.35">1</tspan></text>
<text transform="translate(190.09 450.56) scale(0.955 1)" font-size="9.9" fill="#1c1c1c" stroke="#1c1c1c" stroke-width="0.5">2SK-20P<tspan font-size="6.6" dx="0.4" stroke-width="0.35">1</tspan></text>
<text transform="translate(189.19 479.96) scale(0.955 1)" font-size="9.9" fill="#1c1c1c" stroke="#1c1c1c" stroke-width="0.5">2SK-15P<tspan font-size="6.6" dx="0.4" stroke-width="0.35">1</tspan></text>
<text transform="translate(186.79 505.86) scale(0.955 1)" font-size="9.9" fill="#1c1c1c" stroke="#1c1c1c" stroke-width="0.5">2SK-12P<tspan font-size="6.6" dx="0.4" stroke-width="0.35">1</tspan></text>
<text transform="translate(184.18 520.26) scale(0.955 1)" font-size="9.9" fill="#1c1c1c" stroke="#1c1c1c" stroke-width="0.5">2SK-9P<tspan font-size="6.6" dx="0.4" stroke-width="0.35">1</tspan></text>
<text transform="translate(188.78 543.16) scale(0.955 1)" font-size="9.9" fill="#1c1c1c" stroke="#1c1c1c" stroke-width="0.5">2SK-6P<tspan font-size="6.6" dx="0.4" stroke-width="0.35">1</tspan></text>
<text transform="translate(524.79 411.86) scale(0.955 1)" font-size="9.9" fill="#1c1c1c" stroke="#1c1c1c" stroke-width="0.5">2SK-30P<tspan font-size="6.6" dx="0.4" stroke-width="0.35">1</tspan></text>
<text transform="translate(518.39 448.46) scale(0.955 1)" font-size="9.9" fill="#1c1c1c" stroke="#1c1c1c" stroke-width="0.5">2SK-20P<tspan font-size="6.6" dx="0.4" stroke-width="0.35">1</tspan></text>
<text transform="translate(518.99 486.56) scale(0.955 1)" font-size="9.9" fill="#1c1c1c" stroke="#1c1c1c" stroke-width="0.5">2SK-15P<tspan font-size="6.6" dx="0.4" stroke-width="0.35">1</tspan></text>
<text transform="translate(519.59 518.07) scale(0.955 1)" font-size="9.9" fill="#1c1c1c" stroke="#1c1c1c" stroke-width="0.5">2SK-12P<tspan font-size="6.6" dx="0.4" stroke-width="0.35">1</tspan></text>
<text transform="translate(523.08 535.06) scale(0.955 1)" font-size="9.9" fill="#1c1c1c" stroke="#1c1c1c" stroke-width="0.5">2SK-9P<tspan font-size="6.6" dx="0.4" stroke-width="0.35">1</tspan></text>
<text transform="translate(522.28 548.37) scale(0.955 1)" font-size="9.9" fill="#1c1c1c" stroke="#1c1c1c" stroke-width="0.5">2SK-6P<tspan font-size="6.6" dx="0.4" stroke-width="0.35">1</tspan></text>
<text x="83.3" y="663.9" font-family="'Liberation Serif', 'Noto Serif CJK SC', serif" font-size="9.65" fill="#3a3a3a">注：</text>
<text x="83.7" y="678.3" font-family="'Liberation Serif', 'Noto Serif CJK SC', serif" font-size="9.65" fill="#3a3a3a" textLength="193" lengthAdjust="spacing">曲线图中所列性能指标是在下列条件下得出：</text>
<text x="83.3" y="691.6" font-family="'Liberation Serif', 'Noto Serif CJK SC', serif" font-size="9.65" fill="#3a3a3a">①</text>
<text x="97.7" y="691.5" font-family="'Liberation Serif', 'Noto Serif CJK SC', serif" font-size="9.65" fill="#3a3a3a" textLength="38.2" lengthAdjust="spacing">大气压力</text>
<text x="136.5" y="691.6" font-family="'Liberation Serif', serif" font-size="10" fill="#444" textLength="40.9" lengthAdjust="spacingAndGlyphs">1013mbar</text>
<text x="187.2" y="691.5" text-anchor="end" font-family="'Liberation Serif', 'Noto Serif CJK SC', serif" font-size="9.65" fill="#3a3a3a">（</text>
<text x="187.9" y="691.6" font-family="'Liberation Serif', serif" font-size="10" fill="#444" textLength="43.9" lengthAdjust="spacingAndGlyphs">760mmHg</text>
<text x="232.1" y="691.5" font-family="'Liberation Serif', 'Noto Serif CJK SC', serif" font-size="9.65" fill="#3a3a3a">）</text>
<text x="240" y="691.5" font-family="'Liberation Serif', 'Noto Serif CJK SC', serif" font-size="9.65" fill="#3a3a3a">。</text>
<text x="83.3" y="705.3" font-family="'Liberation Serif', 'Noto Serif CJK SC', serif" font-size="9.65" fill="#3a3a3a">②</text>
<text x="97.7" y="705.2" font-family="'Liberation Serif', 'Noto Serif CJK SC', serif" font-size="9.65" fill="#3a3a3a" textLength="19.3" lengthAdjust="spacing">水温</text>
<text x="117.04" y="705.3" font-family="'Liberation Serif', serif" font-size="10" fill="#444" textLength="9.6" lengthAdjust="spacingAndGlyphs">15</text>
<text x="127" y="705.2" font-family="'Liberation Serif', 'Noto Serif CJK SC', serif" font-size="9.65" fill="#3a3a3a">℃。</text>
<text x="83.3" y="718.8" font-family="'Liberation Serif', 'Noto Serif CJK SC', serif" font-size="9.65" fill="#3a3a3a">③</text>
<text x="97.7" y="718.7" font-family="'Liberation Serif', 'Noto Serif CJK SC', serif" font-size="9.65" fill="#3a3a3a" textLength="38.8" lengthAdjust="spacing">空气温度</text>
<text x="136.68" y="718.8" font-family="'Liberation Serif', serif" font-size="10" fill="#444" textLength="9.3" lengthAdjust="spacingAndGlyphs">20</text>
<text x="146.4" y="718.7" font-family="'Liberation Serif', 'Noto Serif CJK SC', serif" font-size="9.65" fill="#3a3a3a">℃，</text>
<text x="166.2" y="718.7" font-family="'Liberation Serif', 'Noto Serif CJK SC', serif" font-size="9.65" fill="#3a3a3a" textLength="58" lengthAdjust="spacing">气体相对湿度</text>
<text x="224.22" y="718.8" font-family="'Liberation Serif', serif" font-size="10" fill="#444" textLength="15.8" lengthAdjust="spacingAndGlyphs">70%</text>
<text x="240" y="718.7" font-family="'Liberation Serif', 'Noto Serif CJK SC', serif" font-size="9.65" fill="#3a3a3a">。</text>
<text x="83.3" y="732" font-family="'Liberation Serif', 'Noto Serif CJK SC', serif" font-size="9.65" fill="#3a3a3a">④</text>
<text x="97.7" y="731.9" font-family="'Liberation Serif', 'Noto Serif CJK SC', serif" font-size="9.65" fill="#3a3a3a" textLength="77.3" lengthAdjust="spacing">抽气量偏差不超过</text>
<text x="176.3" y="732" font-family="'Liberation Serif', serif" font-size="10" fill="#3a3a3a" textLength="7.2" lengthAdjust="spacingAndGlyphs">±</text>
<text x="184.73" y="732" font-family="'Liberation Serif', serif" font-size="10" fill="#444" textLength="15.8" lengthAdjust="spacingAndGlyphs">10%</text>
</g>
</svg>
</body></html>
